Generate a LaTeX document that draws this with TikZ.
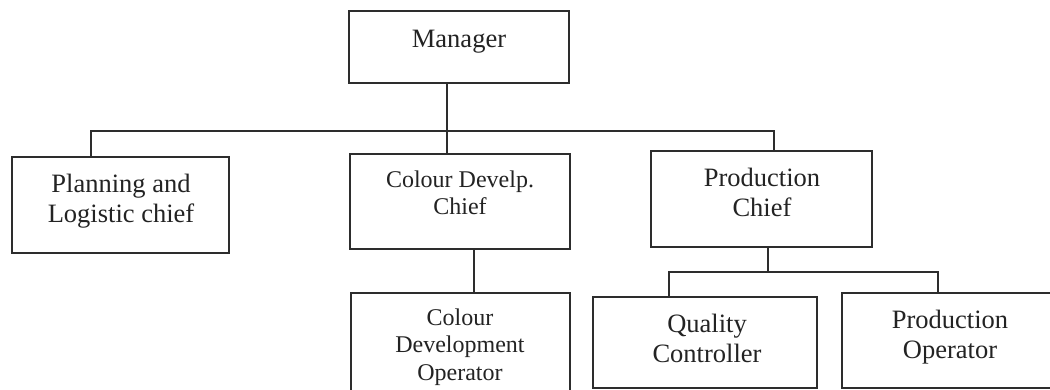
\documentclass[tikz,border=0pt]{standalone}
\usepackage{fontspec}
\setmainfont{Liberation Serif}
\begin{document}
\begin{tikzpicture}[x=1pt,y=-1pt,
  ink/.style={draw={rgb,255:red,45;green,45;blue,45}},
  box/.style={ink,line width=1.4pt,inner sep=0pt,outer sep=0pt},
  wire/.style={ink,line width=1.4pt},
  lbl/.style={anchor=base,inner sep=0pt,text={rgb,255:red,35;green,35;blue,35}},
  big/.style={lbl,font={\fontsize{26.5}{30}\selectfont}},
  mid/.style={lbl,font={\fontsize{24}{27}\selectfont}},
  small/.style={lbl,font={\fontsize{24}{27.5}\selectfont}}]
  \useasboundingbox (0,0) rectangle (1050,389);
  \fill[white] (0,0) rectangle (1050,389);
  \clip (0,0) rectangle (1050,389);

  % boxes
  \node[box,minimum width=220pt,minimum height=72pt] (mgr) at (459,47) {};
  \node[box,minimum width=217pt,minimum height=96pt] (pl)  at (120.5,205) {};
  \node[box,minimum width=220pt,minimum height=95pt] (cdc) at (460,201.5) {};
  \node[box,minimum width=221pt,minimum height=96pt] (pc)  at (761.5,199) {};
  \node[box,minimum width=219pt,minimum height=102pt] (cdo) at (460.5,344) {};
  \node[box,minimum width=224pt,minimum height=91pt] (qc)  at (705,342.5) {};
  \node[box,minimum width=220pt,minimum height=95pt] (po)  at (952,340.5) {};

  % labels
  \node[big] (tmgr) at (459,47) {Manager};
  \node[big] (tpl) at (121,192) {\begin{tabular}[t]{@{}c@{}}Planning and\\Logistic chief\end{tabular}};
  \node[mid] (tcdc) at (460,187) {\begin{tabular}[t]{@{}c@{}}Colour Develp.\\Chief\end{tabular}};
  \node[big] (tpc) at (762,186) {\begin{tabular}[t]{@{}c@{}}Production\\Chief\end{tabular}};
  \node[small] (tcdo) at (460,325) {\begin{tabular}[t]{@{}c@{}}Colour\\Development\\Operator\end{tabular}};
  \node[big] (tqc) at (707,332) {\begin{tabular}[t]{@{}c@{}}Quality\\Controller\end{tabular}};
  \node[big] (tpo) at (950,328) {\begin{tabular}[t]{@{}c@{}}Production\\Operator\end{tabular}};

  % junction points of the connector lines
  \coordinate (bL) at (91,131);
  \coordinate (bM) at (447,131);
  \coordinate (bR) at (774,131);
  \coordinate (cdj) at (474,271);
  \coordinate (sL) at (669,272);
  \coordinate (sM) at (768,272);
  \coordinate (sR) at (938,272);

  % connectors
  \draw[wire] (mgr.south -| bM) -- (cdc.north -| bM);
  \draw[wire] (pl.north -| bL) -- (bL) -- (bR) -- (pc.north -| bR);
  \draw[wire] (cdc.south -| cdj) -- (cdo.north -| cdj);
  \draw[wire] (pc.south -| sM) -- (sM);
  \draw[wire] (qc.north -| sL) -- (sL) -- (sR) -- (po.north -| sR);
\end{tikzpicture}
\end{document}
